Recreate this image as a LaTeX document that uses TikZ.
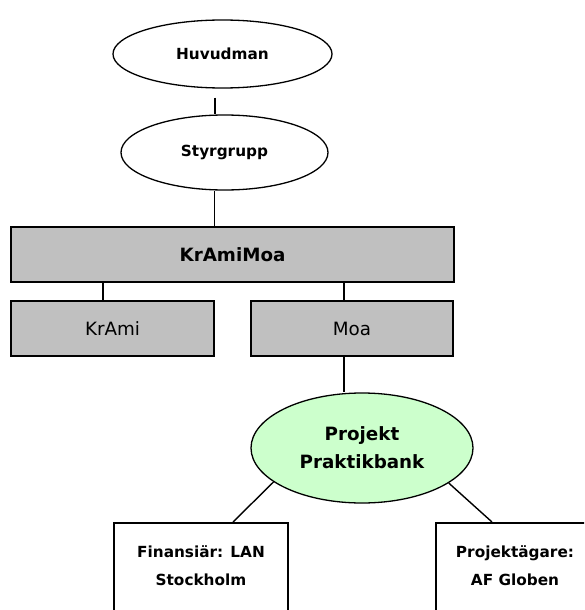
\documentclass[tikz,border=0pt]{standalone}
\usepackage{fontspec}
\setmainfont{DejaVu Sans}
\usetikzlibrary{shapes.geometric}
\definecolor{boxgray}{HTML}{C0C0C0}
\definecolor{projgreen}{HTML}{CCFFCC}
\tikzset{
  oval/.style={draw, ellipse, line width=1.3, inner sep=0, font=\bfseries\fontsize{15.3}{28}\selectfont},
  graybox/.style={draw, fill=boxgray, line width=1.8, inner sep=0, minimum height=55},
  whitebox/.style={draw, line width=1.8, inner sep=0, minimum height=120, anchor=north},
  boxtext/.style={align=center, font=\bfseries\fontsize{15.3}{28}\selectfont},
  link/.style={line width=1.4}
}
\begin{document}
\begin{tikzpicture}[x=1pt,y=-1pt]
\clip (0,0) rectangle (584,610);

\node[oval, minimum width=219, minimum height=68] (hv) at (222.5,54) {Huvudman};
\node[oval, minimum width=207, minimum height=75] (sg) at (224.5,152.5) {Styrgrupp};

\node[graybox, minimum width=443, font=\bfseries\fontsize{18.3}{22}\selectfont] (kam) at (232.5,254.5) {KrAmiMoa};
\node[graybox, minimum width=203, font=\fontsize{18.3}{22}\selectfont] (kr) at (112.5,328.5) {KrAmi};
\node[graybox, minimum width=202, font=\fontsize{18.3}{22}\selectfont] (moa) at (352,328.5) {Moa};

\node[oval, fill=projgreen, minimum width=222, minimum height=110, align=center,
  font=\bfseries\fontsize{18.3}{28}\selectfont] (pp) at (362,448) {Projekt\\Praktikbank};

\node[whitebox, minimum width=174] (fin) at (201,522) {};
\node[boxtext] (fintxt) at (201,566) {Finansiär: LAN\\Stockholm};
\node[whitebox, minimum width=158] (pa) at (515,522) {};
\node[boxtext] (patxt) at (515,566) {Projektägare:\\AF Globen};

% connectors
\draw[link, shorten <=9] ([xshift=-7.5]hv.south) -- ([xshift=-7.5]hv.south |- sg.north);
\draw[link] ([xshift=-10]sg.south) -- ([xshift=-10]sg.south |- kam.north);
\draw[link] ([xshift=-9.5]kr.north |- kam.south) -- ([xshift=-9.5]kr.north);
\draw[link] ([xshift=-8]moa.north |- kam.south) -- ([xshift=-8]moa.north);
\draw[link] ([xshift=-8]moa.south) -- ([xshift=-8]moa.south |- pp.north);
\draw[link] (pp.201) -- ([xshift=32]fin.north);
\draw[link] (pp.-22) -- ([xshift=-23]pa.north);
\end{tikzpicture}
\end{document}
